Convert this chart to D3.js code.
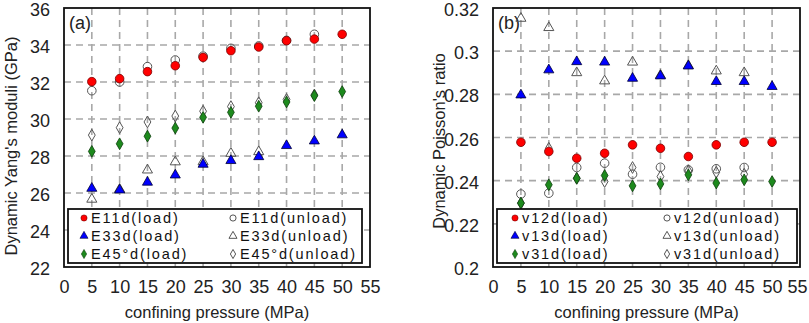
<!DOCTYPE html>
<html><head><meta charset="utf-8">
<script src="https://cdn.jsdelivr.net/npm/d3@7"></script>
<style>
html,body{margin:0;padding:0;background:#fff;}
svg{display:block;font-family:"Liberation Sans",Arial,sans-serif;}
</style></head>
<body><svg id="c" width="809" height="323"></svg>
<script>
// ---- data ----
const pressure = [5,10,15,20,25,30,35,40,45,50];
const xTicks = [0,5,10,15,20,25,30,35,40,45,50,55];

const E11_load   = [32.02,32.18,32.56,32.88,33.33,33.69,33.89,34.23,34.32,34.58];
const E11_unload = [31.53,32.00,32.83,33.19,33.40,33.82,33.95,34.25,34.58,null];
const E33_load   = [26.25,26.16,26.58,26.97,27.55,27.75,27.96,28.56,28.81,29.14];
const E33_unload = [25.66,26.20,27.24,27.68,27.69,28.14,28.23,null,null,null];
const E45_load   = [28.25,28.66,29.07,29.51,30.09,30.36,30.69,30.92,31.26,31.48];
const E45_unload = [29.13,29.53,29.84,30.16,30.42,30.67,30.88,31.06,31.30,null];
const yTicksA = [22,24,26,28,30,32,34,36];

const v12_load   = [0.2578,0.2535,0.2504,0.2527,0.2566,0.2550,0.2512,0.2566,0.2578,0.2578];
const v12_unload = [0.2338,0.2342,0.2461,0.2481,0.2430,0.2462,0.2450,0.2455,0.2461,null];
const v13_load   = [0.2797,0.2913,0.2951,0.2949,0.2874,0.2885,0.2931,0.2859,0.2859,0.2836];
const v13_unload = [0.3152,0.3109,0.2900,0.2862,0.2949,0.2888,0.2933,0.2908,0.2900,null];
const v31_load   = [0.2296,0.2381,0.2411,0.2424,0.2376,0.2385,0.2427,0.2389,0.2404,0.2396];
const v31_unload = [0.2296,0.2550,0.2411,0.2396,0.2461,0.2419,0.2445,0.2439,0.2430,null];
const yTicksB = [0.2,0.22,0.24,0.26,0.28,0.3,0.32];

const panels = [
  {tag:"(a)", x0:64, x1:370, yDomain:[22,36], yTicks:yTicksA, yFmt:d=>String(d),
   yTitle:"Dynamic Yang's moduli (GPa)", yTitleX:11, yTitleY:146, lastShift:0,
   series:[
     {name:"E11d(unload)", vals:E11_unload, shape:"circle", open:true},
     {name:"E33d(unload)", vals:E33_unload, shape:"triangle", open:true},
     {name:"E45°d(unload)", vals:E45_unload, shape:"diamond", open:true},
     {name:"E11d(load)", vals:E11_load, shape:"circle", open:false, fill:"#ff0000", stroke:"#7a0000"},
     {name:"E33d(load)", vals:E33_load, shape:"triangle", open:false, fill:"#0000ff", stroke:"#000033"},
     {name:"E45°d(load)", vals:E45_load, shape:"diamond", open:false, fill:"#1d8a1d", stroke:"#0b3d0b"}
   ],
   legend:{x0:68, x1:362, y0:209, y1:263, col:[84,233]}},
  {tag:"(b)", x0:493, x1:800, yDomain:[0.2,0.32], yTicks:yTicksB, yFmt:d=>String(+d.toFixed(2)),
   yTitle:"Dynamic Poisson's ratio", yTitleX:439, yTitleY:141, lastShift:-3,
   series:[
     {name:"v12d(unload)", vals:v12_unload, shape:"circle", open:true},
     {name:"v13d(unload)", vals:v13_unload, shape:"triangle", open:true},
     {name:"v31d(unload)", vals:v31_unload, shape:"diamond", open:true},
     {name:"v12d(load)", vals:v12_load, shape:"circle", open:false, fill:"#ff0000", stroke:"#7a0000"},
     {name:"v13d(load)", vals:v13_load, shape:"triangle", open:false, fill:"#0000ff", stroke:"#000033"},
     {name:"v31d(load)", vals:v31_load, shape:"diamond", open:false, fill:"#1d8a1d", stroke:"#0b3d0b"}
   ],
   legend:{x0:497, x1:797, y0:209, y1:263, col:[515,667]}}
];

const svg = d3.select("#c");
const yTop = 8, yBot = 267;

function symPath(shape, size){
  const t = shape==="circle"?d3.symbolCircle:shape==="triangle"?d3.symbolTriangle:d3.symbolDiamond;
  return d3.symbol().type(t).size(size)();
}
function spread(sel, perChar){
  sel.each(function(){
    const n = this.textContent.length;
    const w = this.getComputedTextLength();
    d3.select(this).attr("textLength", w + perChar*n).attr("lengthAdjust","spacing");
  });
}

panels.forEach(p=>{
  const x = d3.scaleLinear().domain([0,55]).range([p.x0,p.x1]);
  const y = d3.scaleLinear().domain(p.yDomain).range([yBot,yTop]);
  const g = svg.append("g");

  // grid
  const inner = xTicks.slice(1,-1);
  g.selectAll(".vg").data(inner).join("line")
    .attr("x1",d=>x(d)).attr("x2",d=>x(d)).attr("y1",yTop).attr("y2",yBot)
    .attr("stroke","#a8a8a8").attr("stroke-width",1.6).attr("stroke-dasharray","7,5");
  g.selectAll(".hg").data(p.yTicks.slice(1,-1)).join("line")
    .attr("x1",p.x0).attr("x2",p.x1).attr("y1",d=>y(d)).attr("y2",d=>y(d))
    .attr("stroke","#a8a8a8").attr("stroke-width",1.6).attr("stroke-dasharray","7,5");

  // axes
  const ax = g.append("g").attr("transform",`translate(0,${yBot})`)
    .call(d3.axisBottom(x).tickValues(xTicks).tickSize(0).tickPadding(13));
  ax.select(".domain").remove();
  ax.selectAll("text").attr("font-size",18).attr("fill","#222").attr("font-family","Liberation Sans, Arial, sans-serif")
    .attr("dx",(d)=>d===55?p.lastShift:0);
  const ay = g.append("g").attr("transform",`translate(${p.x0},0)`)
    .call(d3.axisLeft(y).tickValues(p.yTicks).tickFormat(p.yFmt).tickSize(0).tickPadding(14));
  ay.select(".domain").remove();
  ay.selectAll("text").attr("font-size",18).attr("fill","#222").attr("font-family","Liberation Sans, Arial, sans-serif")
    .attr("dy","0.42em");

  // frame
  g.append("rect").attr("x",p.x0).attr("y",yTop).attr("width",p.x1-p.x0).attr("height",yBot-yTop)
    .attr("fill","none").attr("stroke","#111").attr("stroke-width",1.8);

  // titles
  g.append("text").attr("x",(p.x0+p.x1)/2).attr("y",318).attr("text-anchor","middle")
    .attr("font-size",16.5).attr("fill","#222").text("confining pressure (MPa)");
  g.append("text").attr("transform",`translate(${p.yTitleX},${p.yTitleY}) rotate(-90)`)
    .attr("text-anchor","middle").attr("dy","0.35em")
    .attr("font-size",16.5).attr("fill","#222").text(p.yTitle);
  g.append("text").attr("x",p.x0+5).attr("y",29).attr("font-size",18).attr("fill","#222").text(p.tag);

  // points
  p.series.forEach(s=>{
    const pts = pressure.map((px,i)=>({px, v:s.vals[i]})).filter(d=>d.v!=null);
    const size = s.shape==="circle"?58:s.shape==="triangle"?44:40;
    g.selectAll(null).data(pts).join("path")
      .attr("d",symPath(s.shape,size))
      .attr("transform",d=>`translate(${x(d.px)},${y(d.v)})`)
      .attr("fill",s.open?"none":s.fill)
      .attr("stroke",s.open?"#555":s.stroke)
      .attr("stroke-width",s.open?1:0.8);
  });

  // legend
  const L = p.legend;
  g.append("rect").attr("x",L.x0).attr("y",L.y0).attr("width",L.x1-L.x0).attr("height",L.y1-L.y0)
    .attr("fill","#fff").attr("stroke","#111").attr("stroke-width",1.8);
  const loadS = p.series.filter(s=>!s.open), unS = p.series.filter(s=>s.open);
  const rowsY = [218,236,254];
  [loadS,unS].forEach((col,ci)=>{
    col.forEach((s,ri)=>{
      const size = s.shape==="circle"?30:s.shape==="triangle"?28:24;
      g.append("path").attr("d",symPath(s.shape,size))
        .attr("transform",`translate(${L.col[ci]},${rowsY[ri]})`)
        .attr("fill",s.open?"none":s.fill).attr("stroke",s.open?"#555":s.stroke).attr("stroke-width",s.open?1:0.6);
      const t = g.append("text").attr("x",L.col[ci]+7).attr("y",rowsY[ri]).attr("dy","0.36em")
        .attr("font-size",14.5).attr("fill","#111").text(s.name);
      spread(t, 1.7);
    });
  });
});
</script></body></html>
